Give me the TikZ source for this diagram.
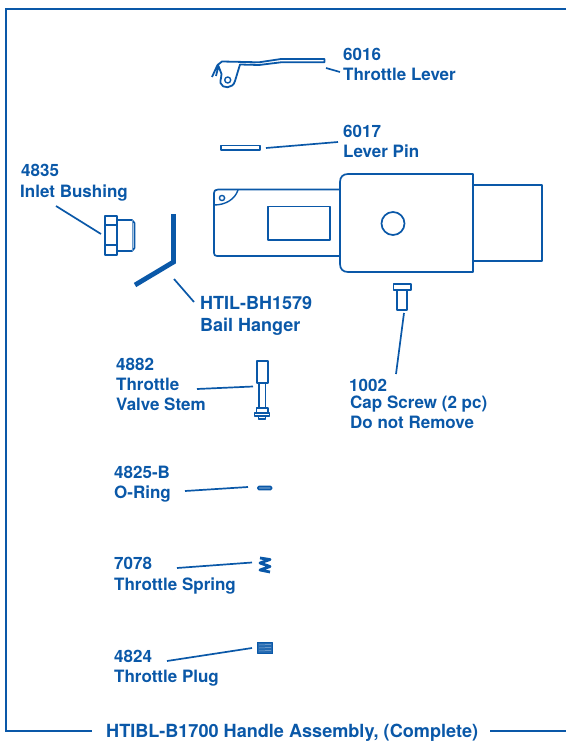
\documentclass[tikz,border=0pt]{standalone}
\usepackage{fontspec}
\setmainfont{TeX Gyre Heros}
\definecolor{ink}{RGB}{10,88,168}
\tikzset{
 part/.style={draw=ink,line width=1.7pt,line join=round},
 leader/.style={draw=ink,line width=1.7pt},
 lab/.style={anchor=base west,inner sep=0pt,yshift=-.8pt,text=ink,font=\bfseries\fontsize{17}{19}\selectfont},
 bigl/.style={lab,font=\bfseries\fontsize{18}{20}\selectfont},
 titlel/.style={lab,font=\bfseries\fontsize{18.1}{20}\selectfont}
}
\begin{document}
\begin{tikzpicture}[x=1pt,y=-1pt]
\useasboundingbox (0,0) rectangle (566,741);
% frame
\node[titlel] (title) at (106,737) {HTIBL-B1700 Handle Assembly, (Complete)};
\coordinate (fTR) at (566,9); \coordinate (fTL) at (6,9); \coordinate (fBL) at (6,731);
\coordinate (fBE) at (92,731); \coordinate (fBS) at (490,731); \coordinate (fBR) at (566,731);
\draw[leader] (fTR) -- (fTL) -- (fBL) -- (fBE);
\draw[leader] (fBS) -- (fBR);
% lever
\draw[part,line width=1.8pt] (212,77) -- (217.5,65) -- (222,61.5) -- (259,62.3) -- (281,59) -- (324.5,59) -- (324.5,62.3) -- (281,62.3) -- (259,65) -- (240,64.5) -- (235,81)
 .. controls (233,89) and (222,89) .. (220.5,83) .. controls (220,79) and (222,77) .. (221.5,74) -- (218.5,66) -- (216,76);
\draw[part,line width=1.4pt] (227.7,80) circle (3);
\coordinate (l1a) at (326,68); \coordinate (l1b) at (340,72);
\draw[leader] (l1a) -- (l1b);
\node[lab] (t6016) at (343,60) {6016};
\node[lab] (t6016b) at (343,80) {Throttle Lever};
% pin
\draw[part] (221,145.5) rectangle (260,150);
\coordinate (l2a) at (266,148); \coordinate (l2b) at (338,142);
\draw[leader] (l2a) -- (l2b);
\node[lab] (t6017) at (343,137) {6017};
\node[lab] (t6017b) at (343,157) {Lever Pin};
% body
\draw[part] (340,189.5) -- (218,189.5) .. controls (215,189.5) and (214,191) .. (214,193) -- (214,253) .. controls (214,255) and (215,256) .. (217,256) -- (340,256);
\draw[part,line width=1.4pt] (238,190) .. controls (235,199) and (226,205) .. (214,205);
\draw[part,line width=1.4pt] (222,198) circle (2.6);
\draw[part] (268,206.5) rectangle (330,240);
\draw[part,fill=white] (348,174) -- (473,174) -- (473,272) -- (348,272) .. controls (343,272) and (340,269) .. (340,264) -- (340,182) .. controls (340,177) and (343,174) .. (348,174) -- cycle;
\draw[part] (473,185) -- (542,185) -- (542,261) -- (473,261);
\draw[part] (393,223.5) circle (11.5);
% screw
\draw[part] (393.5,284) rectangle (411,290);
\draw[part] (397,290) rectangle (407,310);
\coordinate (l3a) at (404,313); \coordinate (l3b) at (396,374);
\draw[leader] (l3a) -- (l3b);
\node[lab] (t1002) at (349,391) {1002};
\node[lab] (t1002b) at (350,408) {Cap Screw (2 pc)};
\node[lab] (t1002c) at (350,428) {Do not Remove};
% bushing
\draw[part] (105,216) rectangle (117,255);
\draw[part] (105,225) -- (117,225) (105,245) -- (117,245);
\draw[part] (117,220) -- (132,220) -- (134.5,223) -- (134.5,248) -- (132,251) -- (117,251);
\draw[part,line width=.6pt,draw=ink!60!white] (132,220) -- (132,251);
\coordinate (l4a) at (56,206); \coordinate (l4b) at (101,234);
\draw[leader] (l4a) -- (l4b);
\node[lab] (t4835) at (21,176) {4835};
\node[lab] (t4835b) at (20,197) {Inlet Bushing};
% bail hanger
\draw[draw=ink,line width=4.8pt,line join=miter] (173.5,214) -- (173.5,262) -- (135,285);
\coordinate (l5a) at (174,279); \coordinate (l5b) at (194,302);
\draw[leader] (l5a) -- (l5b);
\node[bigl] (tbh) at (200,309) {HTIL-BH1579};
\node[bigl] (tbhb) at (200,331) {Bail Hanger};
% stem
\draw[part,line width=2pt] (257,360.5) rectangle (267.5,382.5);
\draw[part] (259,382.5) -- (259,408) (265.5,382.5) -- (265.5,408);
\draw[part] (256.5,408) rectangle (268,413);
\draw[part] (254.5,413) rectangle (269.5,416);
\draw[part,line width=1.2pt] (258.5,416) rectangle (265.5,419);
\coordinate (l6a) at (197,389); \coordinate (l6b) at (253,386.5);
\draw[leader] (l6a) -- (l6b);
\node[lab] (t4882) at (116,370) {4882};
\node[lab] (t4882b) at (116,390) {Throttle};
\node[lab] (t4882c) at (116,410) {Valve Stem};
% o-ring
\draw[part,fill=ink!60!white,rounded corners=1pt] (258,486.5) rectangle (271.5,489.5);
\coordinate (l7a) at (185,491); \coordinate (l7b) at (248,487);
\draw[leader] (l7a) -- (l7b);
\node[lab] (t4825) at (114,478) {4825-B};
\node[lab] (t4825b) at (114,498) {O-Ring};
% spring
\draw[draw=ink,line width=2.8pt,line join=round] (260,558) -- (270,559.5) -- (260,563) -- (270,566.5) -- (260,570) -- (270,572);
\coordinate (l8a) at (177,568); \coordinate (l8b) at (252,562.5);
\draw[leader] (l8a) -- (l8b);
\node[lab] (t7078) at (114,569) {7078};
\node[lab] (t7078b) at (114,590) {Throttle Spring};
% plug
\draw[part,fill=ink!90!white,line width=1pt] (257.5,642.5) rectangle (272.5,653.5);
\draw[draw=white,line width=.5pt,opacity=.5] (259,645) -- (271,644.5) (259,648) -- (271,647.5) (259,651) -- (271,650.5);
\coordinate (l9a) at (167,661); \coordinate (l9b) at (252,648);
\draw[leader] (l9a) -- (l9b);
\node[lab] (t4824) at (114,662) {4824};
\node[lab] (t4824b) at (114,682) {Throttle Plug};
\end{tikzpicture}
\end{document}
